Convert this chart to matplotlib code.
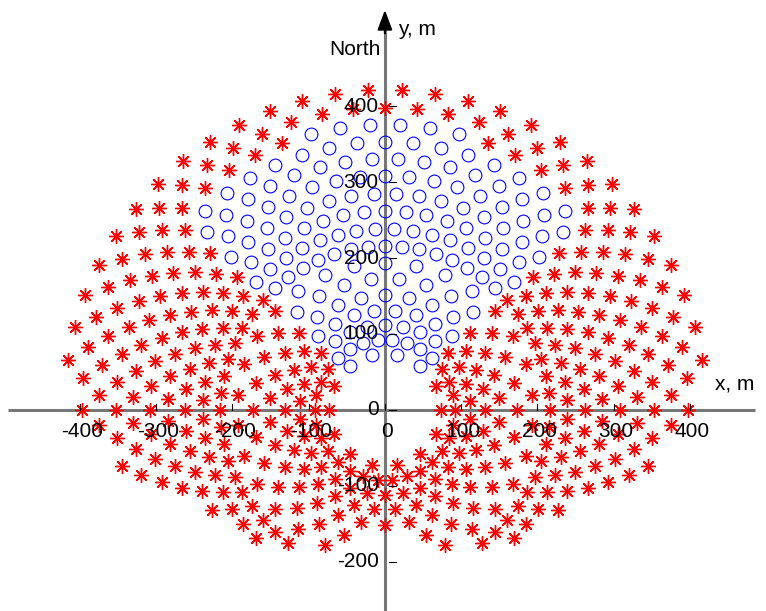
import numpy as np
import matplotlib
matplotlib.use("Agg")
import matplotlib.pyplot as plt

# ---- layout data ----
ring_radius = [74, 92, 112, 131, 151, 173, 194, 216, 239, 262, 285, 308, 331, 353, 376, 398, 421]
ring_count = [14, 30, 30, 30, 30, 30, 30, 60, 60, 60, 60, 60, 60, 60, 60, 60, 60]
ring_on_axis = [0, 0, 1, 0, 1, 0, 1, 1, 0, 1, 0, 1, 0, 1, 0, 1, 0]

# outer field boundary (azimuth from north in degrees, max radius in m)
edge_theta = [0, 45, 84, 92, 100, 118, 148, 165, 180]
edge_rmax = [428, 428, 425, 400, 365, 280, 212, 185, 162]

# selected (blue) sector
blue_theta_max = 45.5
blue_rmax_center = 378
blue_rmax_side = 355
blue_center_theta = 17

x_ticks = [-400, -300, -200, -100, 0, 100, 200, 300, 400]
y_ticks = [-200, -100, 0, 100, 200, 300, 400]

# ---- build heliostat positions ----
red_x, red_y, blue_x, blue_y = [], [], [], []
for r, n, on in zip(ring_radius, ring_count, ring_on_axis):
    step = 360.0 / n
    phase = 0.0 if on else step / 2
    for j in range(n):
        th = (phase + j * step + 180) % 360 - 180
        a = abs(th)
        x = -r * np.sin(np.radians(th))
        y = r * np.cos(np.radians(th))
        if r > np.interp(a, edge_theta, edge_rmax):
            continue
        lim = blue_rmax_center if a < blue_center_theta else blue_rmax_side
        if a <= blue_theta_max and r <= lim:
            blue_x.append(x); blue_y.append(y)
        else:
            red_x.append(x); red_y.append(y)

fig = plt.figure(figsize=(7.66, 6.11), dpi=100)
ax = fig.add_axes([0, 0, 1, 1])
ax.set_xlim(-505, 500)
ax.set_ylim(-264.5, 539.5)
ax.axis("off")

ax.plot(red_x, red_y, linestyle="none", marker=(8, 2, 0), markersize=10.5,
        markeredgecolor="red", markeredgewidth=1.0, zorder=3)
ax.plot(blue_x, blue_y, linestyle="none", marker="o", markersize=9.2,
        markerfacecolor="none", markeredgecolor="blue", markeredgewidth=0.8, zorder=3)

axcol = "#777777"
ax.plot([-495, 485], [0, 0], color=axcol, lw=2.2, zorder=2, solid_capstyle="butt")
ax.plot([0, 0], [-264.5, 520], color=axcol, lw=2.2, zorder=2, solid_capstyle="butt")
ax.annotate("", xy=(503, 0), xytext=(468, 0),
            arrowprops=dict(arrowstyle="-|>,head_length=1.2,head_width=0.45",
                            color="black", lw=1.5), zorder=4)
ax.annotate("", xy=(0, 530), xytext=(0, 492),
            arrowprops=dict(arrowstyle="-|>,head_length=1.2,head_width=0.45",
                            color="black", lw=1.5), zorder=4)

font = dict(family=["Liberation Sans", "DejaVu Sans"], fontsize=15, color="black")
for t in x_ticks:
    ax.plot([t, t], [0, 8], color="black", lw=0.8, zorder=4)
    ax.text(t + 3, -16, f"{t}", ha="center", va="top", zorder=5, **font)
for t in y_ticks:
    ax.plot([6, 14], [t, t], color="black", lw=0.8, zorder=4)
    ax.text(-8, t, f"{t}", ha="right", va="center", zorder=5, **font)

ax.text(-5, 475, "North", ha="right", va="center", zorder=5, **font)
ax.text(17, 501, "y, m", ha="left", va="center", zorder=5, **font)
ax.text(433, 34, "x, m", ha="left", va="center", zorder=5, **font)

fig.savefig("out.png", dpi=100)
